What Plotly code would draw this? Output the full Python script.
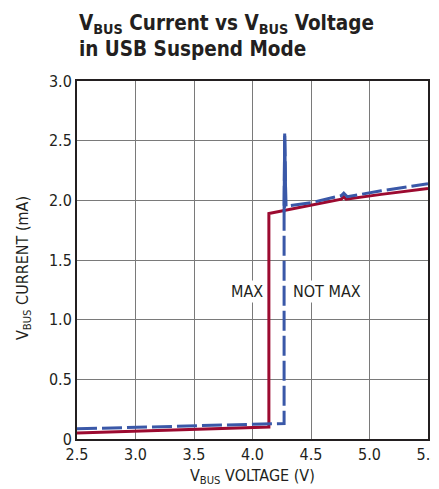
import plotly.graph_objects as go

# MAX curve (solid red)
max_v = [2.5, 4.14, 4.14, 4.45, 4.76, 4.78, 4.80, 5.1, 5.5]
max_i = [0.05, 0.10, 1.89, 1.95, 2.01, 2.03, 2.01, 2.05, 2.10]

# NOT MAX curve (dashed blue)
notmax_v = [2.5, 4.27, 4.27, 4.275, 4.285, 4.5, 4.76, 4.78, 4.81, 5.1, 5.5]
notmax_i = [0.085, 0.13, 1.9, 2.56, 1.95, 1.98, 2.04, 2.06, 2.03, 2.08, 2.14]

x_ticks = [2.5, 3.0, 3.5, 4.0, 4.5, 5.0, 5.5]
x_tick_text = ["2.5", "3.0", "3.5", "4.0", "4.5", "5.0", "5.5"]
y_ticks = [0, 0.5, 1.0, 1.5, 2.0, 2.5, 3.0]
y_tick_text = ["0", "0.5", "1.0", "1.5", "2.0", "2.5", "3.0"]

FONT = "DejaVu Sans Condensed, Liberation Sans Narrow, sans-serif"
GRID = "#7a7a7a"
AXIS = "#231f20"
BLUE = "#3a58a8"

# the page body adds an 8px offset, so the figure is sized to fit the window
OFF = 8
W, H = 439 - OFF, 489 - OFF
M = dict(l=77 - OFF, r=11, t=81 - OFF, b=58 - OFF)
PW = W - M["l"] - M["r"]
PH = H - M["t"] - M["b"]


def px(x):
    # page pixel column -> paper x
    return (x - OFF - M["l"]) / PW


def py(y):
    # page pixel row -> paper y
    return (H + OFF - M["b"] - y) / PH


fig = go.Figure()

fig.add_trace(go.Scatter(
    x=max_v, y=max_i, mode="lines", name="MAX",
    line=dict(color="#9c0a30", width=3),
))
fig.add_trace(go.Scatter(
    x=notmax_v, y=notmax_i, mode="lines", name="NOT MAX",
    line=dict(color=BLUE, width=3, dash="20px,5px"),
))
# the spike of the NOT MAX curve is drawn solid
fig.add_trace(go.Scatter(
    x=notmax_v[2:5], y=notmax_i[2:5], mode="lines", name="NOT MAX spike",
    line=dict(color=BLUE, width=3),
))

fig.add_annotation(x=3.95, y=1.24, text="MAX", showarrow=False,
                   font=dict(size=16, color=AXIS, family=FONT),
                   bgcolor="white", borderpad=1)
fig.add_annotation(x=4.64, y=1.24, text="NOT MAX", showarrow=False,
                   font=dict(size=16, color=AXIS, family=FONT),
                   bgcolor="white", borderpad=1)

# two-line bold title
fig.add_annotation(x=0, xref="paper", xanchor="left", y=py(24), yref="paper", yanchor="middle",
                   text="<b>V<sub>BUS</sub> Current vs V<sub>BUS</sub> Voltage</b>",
                   showarrow=False, font=dict(size=20.5, color=AXIS, family=FONT))
fig.add_annotation(x=0, xref="paper", xanchor="left", y=py(49), yref="paper", yanchor="middle",
                   text="<b>in USB Suspend Mode</b>",
                   showarrow=False, font=dict(size=20.5, color=AXIS, family=FONT))

# axis titles
fig.add_annotation(x=px(23), xref="paper", xanchor="center", y=py(268), yref="paper", yanchor="middle",
                   text="V<sub>BUS</sub> CURRENT (mA)", textangle=-90,
                   showarrow=False, font=dict(size=16, color=AXIS, family=FONT))
fig.add_annotation(x=px(252), xref="paper", xanchor="center", y=py(476), yref="paper", yanchor="middle",
                   text="V<sub>BUS</sub> VOLTAGE (V)",
                   showarrow=False, font=dict(size=16, color=AXIS, family=FONT))

fig.update_layout(
    width=W, height=H,
    margin=M,
    paper_bgcolor="white", plot_bgcolor="white",
    showlegend=False,
    font=dict(family=FONT, size=16, color=AXIS),
    xaxis=dict(
        range=[2.5, 5.5], tickvals=x_ticks, ticktext=x_tick_text, ticks="",
        showgrid=True, gridcolor=GRID, gridwidth=1,
        showline=True, linecolor=AXIS, linewidth=2, mirror=True,
        zeroline=False, tickfont=dict(size=16), automargin=False,
        ticklabeloverflow="allow",
    ),
    yaxis=dict(
        range=[0, 3.0], tickvals=y_ticks, ticktext=y_tick_text, ticks="",
        showgrid=True, gridcolor=GRID, gridwidth=1,
        showline=True, linecolor=AXIS, linewidth=2, mirror=True,
        zeroline=False, tickfont=dict(size=16), automargin=False,
    ),
)

fig.write_html("out.html")
